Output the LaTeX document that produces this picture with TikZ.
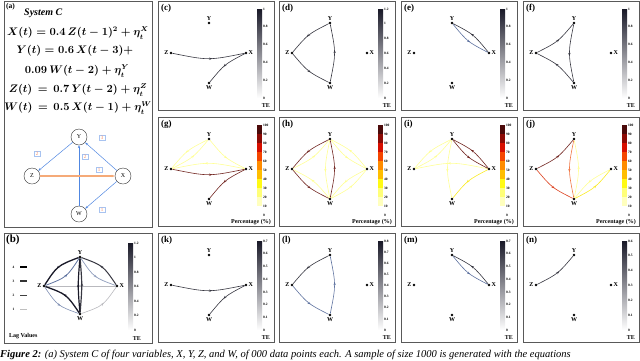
\documentclass[tikz,border=0pt]{standalone}
\usepackage{fontspec}
\setmainfont{Liberation Serif}
\usepackage{amsmath}
\usetikzlibrary{arrows.meta,decorations.markings,positioning,calc}
\definecolor{tetop}{RGB}{25,25,40}
\definecolor{temid}{RGB}{125,165,180}
\definecolor{edgedark}{RGB}{55,55,65}
\definecolor{edgeblue}{RGB}{95,115,160}
\definecolor{edgelight}{RGB}{185,185,190}
\definecolor{pct0}{RGB}{255,255,255}
\definecolor{pct1}{RGB}{255,255,190}
\definecolor{pct2}{RGB}{255,255,120}
\definecolor{pct3}{RGB}{255,250,20}
\definecolor{pct4}{RGB}{255,190,0}
\definecolor{pct5}{RGB}{255,140,0}
\definecolor{pct6}{RGB}{245,70,0}
\definecolor{pct7}{RGB}{215,15,0}
\definecolor{pct8}{RGB}{140,10,5}
\definecolor{pct9}{RGB}{75,10,10}
\definecolor{pyellow}{RGB}{255,255,150}
\definecolor{pgold}{RGB}{250,235,40}
\definecolor{pbrown}{RGB}{115,40,35}
\definecolor{pred}{RGB}{220,65,30}
\definecolor{porange}{RGB}{240,120,70}
\definecolor{arrblue}{RGB}{80,135,225}
\definecolor{arrorange}{RGB}{245,170,120}
\tikzset{
  panelbox/.style={draw=black!65, line width=0.9pt},
  paneltag/.style={anchor=north west, font=\fontsize{9}{9}\selectfont\bfseries, inner sep=0pt},
  vdot/.style={circle, fill=black, inner sep=0pt, minimum size=2.6pt},
  vlbl/.style={font=\fontsize{6}{6}\selectfont\bfseries, inner sep=1pt},
  tick/.style={font=\fontsize{3.5}{4}\selectfont\bfseries, anchor=west, inner sep=0.5pt},
  cbtitle/.style={font=\fontsize{6}{6}\selectfont\bfseries, anchor=south east, inner sep=0pt},
  link/.style={line width=0.6pt, postaction={decorate},
    decoration={markings, mark=at position 0.55 with {\arrow{Stealth[length=3pt,width=2.4pt]}}}},
  eqn/.style={font=\fontsize{10.5}{12}\selectfont\boldmath, inner sep=0pt},
  varnode/.style={circle, draw=black!80, line width=0.4pt, minimum size=16pt, inner sep=0pt, font=\fontsize{6}{6}\selectfont},
  causal/.style={arrblue, line width=0.5pt, -{Stealth[length=3pt,width=2.4pt]}},
  lagbox/.style={draw=arrblue!50, text=arrorange!80!red, font=\fontsize{5}{5}\selectfont, inner sep=0.8pt, minimum width=6pt}
}
\begin{document}
\begin{tikzpicture}[x=1pt,y=-1pt]
\useasboundingbox (0,0) rectangle (640,360);
\clip (0,0) rectangle (640,360);

% one small network panel: box, tag and the four variables
\def\netpanel#1#2#3#4{%
  \draw[panelbox] (#2,#3) rectangle ++(116,109);
  \node[paneltag] at (#2+3,#3+3) {(#4)};
  \node[vdot, label={[vlbl]above:Y}] (#1Y) at (#2+51,#3+22) {};
  \node[vdot, label={[vlbl]left:Z}] (#1Z) at (#2+13,#3+52) {};
  \node[vdot, label={[vlbl]right:X}] (#1X) at (#2+88,#3+52) {};
  \node[vdot, label={[vlbl]below:W}] (#1W) at (#2+51,#3+82) {};
}
% directed edge bowing to the right of its direction, #4 = bow
\def\bow{0.2}
\def\arc#1#2#3#4{%
  \draw[link,#1] (#2) .. controls ($(#2)!0.5!(#3)!#4!-90:(#3)$) .. (#3);
}
% TE colour bar, #3 = tick labels, #4 = number of intervals
\def\tebar#1#2#3#4{%
  \shade[bottom color=white, middle color=temid, top color=tetop] (#1+99,#2+8) rectangle (#1+104,#2+97);
  \foreach \t [count=\i from 0] in {#3} \node[tick] at (#1+104.5,#2+97-\i*89/#4) {\t};
  \node[cbtitle] at (#1+112,#2+107) {TE};
}
% percentage colour bar
\def\pctbar#1#2{%
  \foreach \c [count=\i from 0] in {pct0,pct1,pct2,pct3,pct4,pct5,pct6,pct7,pct8,pct9}
    \fill[\c] (#1+99,#2+98-\i*9) rectangle ++(5,-9);
  \foreach \t [count=\i from 0] in {0,10,...,100} \node[tick] at (#1+104.5,#2+98-\i*9) {\t};
  \node[cbtitle] at (#1+113,#2+108) {Percentage (\%)};
}

% (a) equations and true causal graph
\draw[panelbox] (4,1) rectangle (152,227);
\node[paneltag, font=\fontsize{7.5}{8}\selectfont\bfseries] at (6,3) {(a)};
\node[font=\fontsize{10}{10}\selectfont\bfseries\itshape, anchor=west, inner sep=0pt] at (24,13) {System C};
\node[eqn] (eqX) at (78,33) {$X(t) = 0.4\,Z(t-1)^2 + \eta_t^X$};
\node[eqn] (eqY) at (75,51) {$Y(t) = 0.6\,X(t-3) +$};
\node[eqn] (eqY2) at (77,71) {$0.09\,W(t-2) + \eta_t^Y$};
\node[eqn] (eqZ) at (78,90) {$Z(t) \,=\, 0.7\,Y(t-2) + \eta_t^Z$};
\node[eqn] (eqW) at (78,108) {$W(t) \,=\, 0.5\,X(t-1) + \eta_t^W$};
\node[varnode] (aY) at (79,137) {Y};
\node[varnode] (aZ) at (32,176) {Z};
\node[varnode] (aX) at (123,176) {X};
\node[varnode] (aW) at (79,214) {W};
\draw[causal] (aY) -- (aZ);
\draw[causal] (aW) -- (aY);
\draw[causal] (aX) -- (aY);
\draw[causal] (aX) -- (aW);
\draw[causal, arrorange, line width=1.3pt] (aZ) -- (aX);
\node[lagbox] at (37,154) {2};
\node[lagbox] at (85,157) {2};
\node[lagbox] at (102,138) {3};
\node[lagbox] at (99,170) {1};
\node[lagbox] at (102,210) {1};

% (b) all lags together
\draw[panelbox] (4,233) rectangle (152,343);
\node[paneltag, font=\fontsize{11}{11}\selectfont\bfseries] at (6,235) {(b)};
\node[vdot, label={[vlbl]above:Y}] (bY) at (80,257) {};
\node[vdot, label={[vlbl]left:Z}] (bZ) at (44,286) {};
\node[vdot, label={[vlbl]right:X}] (bX) at (117,286) {};
\node[vdot, label={[vlbl]below:W}] (bW) at (80,314) {};
\shade[bottom color=white, middle color=temid, top color=tetop] (128,243) rectangle (133,330);
\foreach \t [count=\i from 0] in {0,0.2,0.4,0.6,0.8,1,1.2} \node[tick] at (133.5,330-\i*87/6) {\t};
\node[cbtitle] at (141,341) {TE};
\arc{edgelight}{bW}{bX}{0.32}
\arc{edgelight}{bZ}{bX}{0}
\arc{edgeblue!80}{bZ}{bW}{0.32}
\arc{edgeblue, line width=0.8pt}{bZ}{bY}{0.32}
\arc{edgeblue!70, line width=0.7pt}{bY}{bX}{0.32}
\arc{tetop, line width=1.3pt}{bY}{bZ}{0.32}
\arc{edgedark, line width=1pt}{bX}{bY}{0.32}
\arc{tetop, line width=1.3pt}{bW}{bZ}{0.32}
\arc{tetop, line width=1.2pt}{bY}{bW}{0.08}
\arc{edgedark, line width=1.2pt}{bW}{bY}{0.08}
% lag legend
\foreach \l/\c/\w [count=\i from 0] in {4/black/1.4pt,3/black!80/1.1pt,2/black!75/0.8pt,1/black!25/0.8pt}{
  \draw[\c, line width=\w] (20,267+\i*14) -- (27,267+\i*14);
  \node[tick, anchor=east] at (15,267+\i*14) {\l};
}
\node[font=\fontsize{6}{6}\selectfont\bfseries, anchor=west, inner sep=0pt] at (9,336) {Lag Values};

% top row: TE per lag
\netpanel{c}{158}{1}{c}
\tebar{158}{1}{0,0.2,0.4,0.6,0.8,1}{5}
\arc{edgedark}{cZ}{cX}{\bow}
\arc{edgedark}{cX}{cW}{\bow}

\netpanel{d}{279}{1}{d}
\tebar{279}{1}{0,0.2,0.4,0.6,0.8,1,1.2}{6}
\arc{edgedark}{dY}{dZ}{\bow}
\arc{edgedark}{dZ}{dW}{\bow}
\arc{edgedark}{dW}{dY}{\bow}

\netpanel{e}{401}{1}{e}
\tebar{401}{1}{0,0.2,0.4,0.6,0.8,1}{5}
\arc{edgedark}{eX}{eY}{\bow}
\arc{edgeblue}{eY}{eX}{\bow}

\netpanel{f}{523}{1}{f}
\tebar{523}{1}{0,0.2,0.4,0.6,0.8,1}{5}
\arc{edgedark}{fZ}{fY}{\bow}
\arc{edgedark}{fY}{fW}{\bow}
\arc{edgedark}{fW}{fZ}{\bow}

% middle row: percentage of detection
\netpanel{g}{158}{117}{g}
\pctbar{158}{117}
\arc{pyellow}{gY}{gZ}{\bow}
\arc{pyellow}{gZ}{gY}{\bow}
\arc{pyellow}{gY}{gX}{\bow}
\arc{pyellow}{gX}{gZ}{\bow}
\arc{pbrown}{gZ}{gX}{\bow}
\arc{pbrown}{gX}{gW}{\bow}

\netpanel{h}{279}{117}{h}
\pctbar{279}{117}
\arc{pyellow}{hZ}{hY}{\bow}
\arc{pyellow}{hW}{hZ}{\bow}
\arc{pyellow}{hY}{hW}{\bow}
\arc{pyellow}{hX}{hY}{\bow}
\arc{pyellow}{hY}{hX}{\bow}
\arc{pyellow}{hX}{hW}{\bow}
\arc{pyellow}{hW}{hX}{\bow}
\arc{pbrown}{hY}{hZ}{\bow}
\arc{pbrown}{hZ}{hW}{\bow}
\arc{pbrown}{hW}{hY}{\bow}

\netpanel{i}{401}{117}{i}
\pctbar{401}{117}
\arc{pyellow}{iY}{iZ}{\bow}
\arc{pyellow}{iZ}{iY}{\bow}
\arc{pyellow}{iX}{iZ}{\bow}
\arc{pyellow}{iY}{iW}{\bow}
\arc{pgold}{iX}{iW}{\bow}
\arc{pbrown}{iX}{iY}{\bow}
\arc{pbrown}{iY}{iX}{\bow}

\netpanel{j}{523}{117}{j}
\pctbar{523}{117}
\arc{pyellow}{jW}{jY}{\bow}
\arc{pyellow}{jX}{jW}{\bow}
\arc{pgold}{jW}{jX}{\bow}
\arc{porange}{jY}{jW}{\bow}
\arc{pred}{jZ}{jW}{\bow}
\arc{pbrown}{jZ}{jY}{\bow}

% bottom row: mean TE
\netpanel{k}{158}{233}{k}
\tebar{158}{233}{0,0.1,0.2,0.3,0.4,0.5,0.6,0.7}{7}
\arc{edgedark}{kZ}{kX}{\bow}
\arc{edgedark}{kX}{kW}{\bow}

\netpanel{l}{279}{233}{l}
\tebar{279}{233}{0,0.1,0.2,0.3,0.4,0.5,0.6,0.7,0.8}{8}
\arc{edgedark}{lY}{lZ}{\bow}
\arc{edgeblue}{lZ}{lW}{\bow}
\arc{edgeblue}{lW}{lY}{\bow}

\netpanel{m}{401}{233}{m}
\tebar{401}{233}{0,0.1,0.2,0.3,0.4,0.5,0.6,0.7}{7}
\arc{edgedark}{mX}{mY}{\bow}
\arc{edgeblue}{mY}{mX}{\bow}

\netpanel{n}{523}{233}{n}
\tebar{523}{233}{0,0.1,0.2,0.3,0.4,0.5,0.6}{6}
\arc{edgedark}{nZ}{nY}{\bow}

% caption, cut by the page edge
\node[anchor=base west, inner sep=0pt, font=\fontsize{10.5}{12}\selectfont\itshape] (caption) at (0,357)
  {\textbf{Figure 2:} (a) System C of four variables, X, Y, Z, and W, of 000 data points each. A sample of size 1000 is generated with the equations};
\end{tikzpicture}
\end{document}
